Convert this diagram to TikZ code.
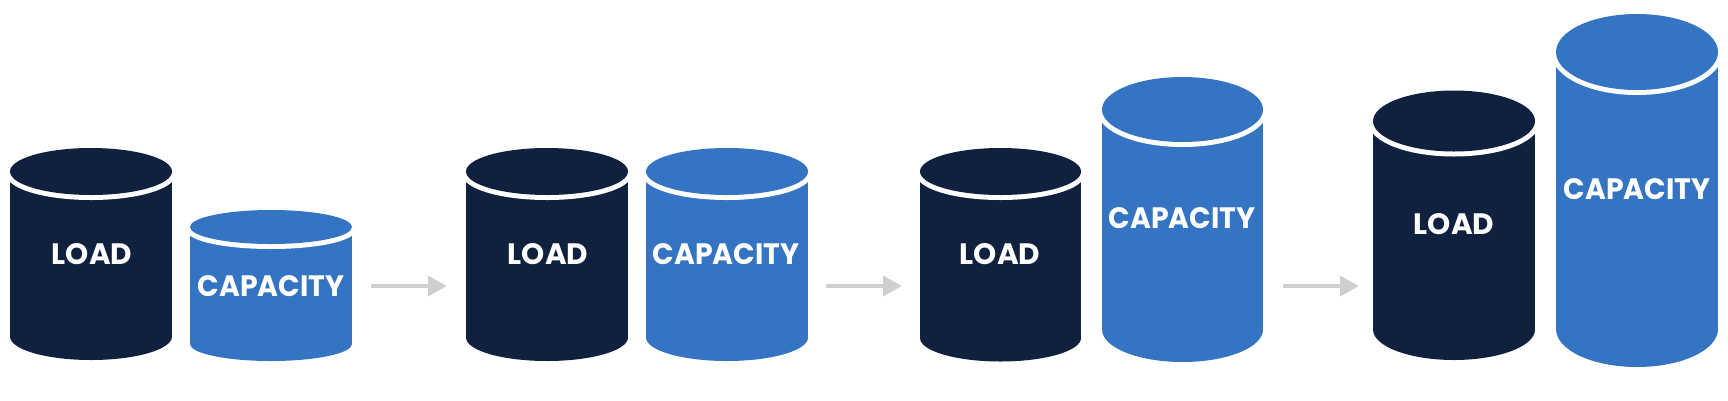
\documentclass[tikz,border=0pt]{standalone}
\usepackage{fontspec}
\usetikzlibrary{arrows.meta}
\newfontfamily\lblfont{Poppins}
\definecolor{navy}{HTML}{10213F}
\definecolor{capblue}{HTML}{3474C2}
\definecolor{arrgray}{HTML}{CFCFCF}
\newcommand\cylinder[6]{% cx, cy, rx, ry, cb, colour
  \fill[#6] ({#1-#3},#2) rectangle ({#1+#3},#5);
  \fill[#6] (#1,#5) ellipse[x radius=#3, y radius=#4];
  \draw[white, line width=10pt] (#1,#2) ellipse[x radius=#3, y radius=#4];
  \fill[#6] (#1,#2) ellipse[x radius=#3, y radius=#4];
}
\begin{document}
\begin{tikzpicture}[x=1pt, y=-1pt,
  lbl/.style={text=white, font=\lblfont\bfseries\fontsize{29.5}{30}\selectfont, inner sep=0pt, anchor=base},
  flow/.style={draw=arrgray, line width=4pt, -{Triangle[length=19pt, width=20pt]}}]
\useasboundingbox (0,0) rectangle (1728,400);
% cylinders
\cylinder{91}{171.5}{81}{23.5}{336.5}{navy}
\cylinder{271}{227}{81}{17}{344}{capblue}
\cylinder{547}{171.5}{81}{23.5}{337.5}{navy}
\cylinder{727}{171.5}{81}{23.5}{337.5}{capblue}
\cylinder{1000.5}{171.5}{80.5}{23.5}{338}{navy}
\cylinder{1182.5}{109.5}{80.5}{32.5}{329.5}{capblue}
\cylinder{1454}{121}{81}{30.5}{329.5}{navy}
\cylinder{1637}{52}{81}{38}{329}{capblue}
% labels
\node[lbl] (l1) at (92,264.5) {LOAD};
\node[lbl] (c1) at (271,296) {\scalebox{0.96}[1]{CAPACITY}};
\node[lbl] (l2) at (548,264.5) {LOAD};
\node[lbl] (c2) at (726,264.5) {\scalebox{0.96}[1]{CAPACITY}};
\node[lbl] (l3) at (1000,264.5) {LOAD};
\node[lbl] (c3) at (1182,228.5) {\scalebox{0.96}[1]{CAPACITY}};
\node[lbl] (l4) at (1454,234.5) {LOAD};
\node[lbl] (c4) at (1637,199.5) {\scalebox{0.96}[1]{CAPACITY}};
% arrows
\coordinate (a1s) at (371,286);
\coordinate (a1e) at (447,286);
\coordinate (a2s) at (826,286);
\coordinate (a2e) at (902,286);
\coordinate (a3s) at (1283,286);
\coordinate (a3e) at (1359,286);
\draw[flow] (a1s) -- (a1e);
\draw[flow] (a2s) -- (a2e);
\draw[flow] (a3s) -- (a3e);
\end{tikzpicture}
\end{document}
